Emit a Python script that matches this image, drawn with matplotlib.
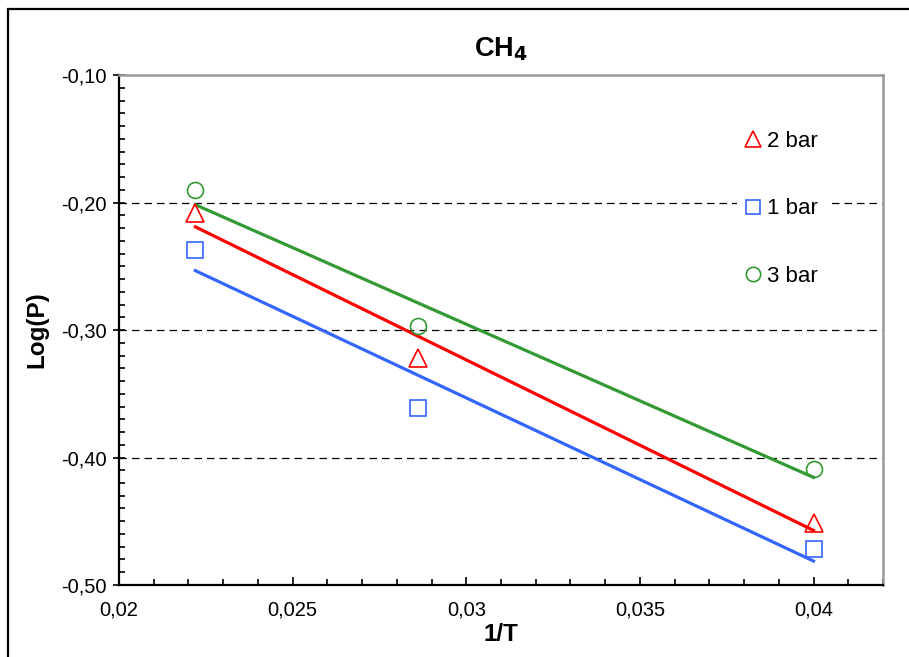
import matplotlib
matplotlib.use('Agg')
import matplotlib.pyplot as plt
import numpy as np
from matplotlib.ticker import MultipleLocator, FuncFormatter
from matplotlib.patches import Rectangle

plt.rcParams['font.family'] = ['Liberation Sans', 'DejaVu Sans']

# 1/T values (T = 45, 35, 25)
inv_t = [0.0222, 0.0286, 0.0400]

# log(P)
log_p_2bar = [-0.208, -0.322, -0.451]
log_p_1bar = [-0.237, -0.361, -0.472]
log_p_3bar = [-0.190, -0.297, -0.409]

series = [
    ('2 bar', log_p_2bar, '^', '#ff0000', 13.5),
    ('1 bar', log_p_1bar, 's', '#3366ff', 11.5),
    ('3 bar', log_p_3bar, 'o', '#339933', 11.5),
]

fig = plt.figure(figsize=(9.09, 6.57), dpi=100)
ax = fig.add_axes([0.1309, 0.1096, 0.8405, 0.7762])

# outer frame of the figure (runs off the right / bottom edge)
fig.patches.append(Rectangle((8 / 909, -0.05), 1.1, 1 - 9 / 657 + 0.05,
                             transform=fig.transFigure, fill=False,
                             edgecolor='black', linewidth=1.6))

x = np.array(inv_t)
for label, y, marker, color, ms in series:
    k, b = np.polyfit(x, y, 1)
    xs = np.array([x.min(), x.max()])
    ax.plot(xs, k * xs + b, color=color, linewidth=2.3, zorder=2)
for label, y, marker, color, ms in series:
    ax.plot(x, y, linestyle='none', marker=marker, markersize=ms,
            markerfacecolor='none', markeredgecolor=color,
            markeredgewidth=1.2, label=label, zorder=3)

ax.set_xlim(0.02, 0.042)
ax.set_ylim(-0.5, -0.1)
ax.xaxis.set_major_locator(MultipleLocator(0.005))
ax.xaxis.set_minor_locator(MultipleLocator(0.001))
ax.yaxis.set_major_locator(MultipleLocator(0.1))
ax.yaxis.set_minor_locator(MultipleLocator(0.01))
ax.xaxis.set_major_formatter(FuncFormatter(lambda v, p: f'{v:g}'.replace('.', ',')))
ax.yaxis.set_major_formatter(FuncFormatter(lambda v, p: f'{v:.2f}'.replace('.', ',')))

ax.tick_params(axis='both', which='major', labelsize=14.5, length=6, width=1.2)
ax.tick_params(axis='y', which='major', direction='inout', length=8, pad=5)
ax.tick_params(axis='x', which='major', direction='in', pad=11)
ax.tick_params(axis='both', which='minor', direction='in', length=4, width=1.2)

for s in ['left', 'bottom']:
    ax.spines[s].set_linewidth(1.6)
    ax.spines[s].set_color('black')
for s in ['top', 'right']:
    ax.spines[s].set_linewidth(1.8)
    ax.spines[s].set_color('#999999')

for yv in [-0.2, -0.3, -0.4]:
    ax.axhline(yv, color='black', linestyle=(0, (6, 4)), linewidth=0.9, zorder=1)

ax.set_title('CH$_\\mathbf{4}$', fontsize=19.5, fontweight='bold', pad=13)
ax.set_xlabel('1/T', fontsize=17.5, fontweight='bold', labelpad=3)
ax.set_ylabel('Log(P)', fontsize=17.5, fontweight='bold', labelpad=9)

leg = ax.legend(loc='upper left', bbox_to_anchor=(0.795, 0.93), fontsize=16,
                labelspacing=2.1, handlelength=0.6, handletextpad=0.35,
                markerscale=0.9, frameon=True, fancybox=False, borderpad=0.4)
leg.get_frame().set_facecolor('white')
leg.get_frame().set_edgecolor('none')
leg.get_frame().set_alpha(1)

fig.savefig('out.png', dpi=100)
